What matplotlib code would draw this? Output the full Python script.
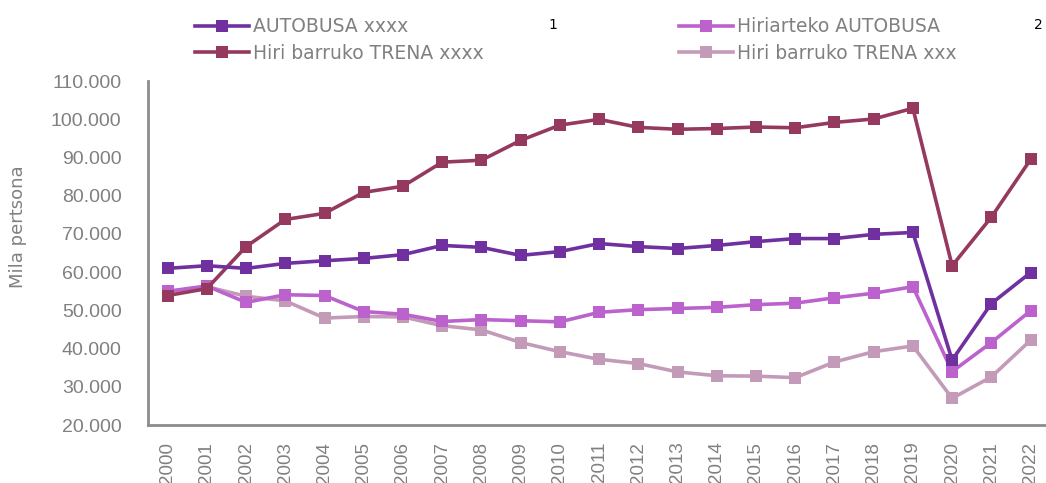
import matplotlib
matplotlib.use("Agg")
import matplotlib.pyplot as plt
from matplotlib.ticker import FuncFormatter
from matplotlib.lines import Line2D

years = [str(y) for y in range(2000, 2023)]
autobusa = [61000, 61700, 61000, 62300, 63000, 63600, 64600, 67000, 66500, 64400, 65400,
            67500, 66700, 66200, 67000, 68000, 68800, 68800, 69900, 70400, 37000, 51800, 59900]
trena = [53900, 55700, 66700, 73800, 75400, 80900, 82500, 88800, 89300, 94500, 98500,
         100000, 97900, 97400, 97600, 98000, 97800, 99200, 100100, 102900, 61700, 74400, 89500]
hiriarteko = [55000, 56400, 52100, 54100, 53900, 49700, 49000, 47100, 47600, 47300, 47000,
              49500, 50200, 50500, 50800, 51500, 51900, 53300, 54500, 56200, 34000, 41600, 49900]
trena2 = [54900, 56200, 53700, 52500, 48000, 48400, 48300, 46000, 44900, 41600, 39200,
          37200, 36100, 33900, 32900, 32800, 32400, 36500, 39200, 40700, 27000, 32600, 42200]

labels = ["AUTOBUSA xxxx", "Hiri barruko TRENA xxxx", "Hiriarteko AUTOBUSA", "Hiri barruko TRENA xxx"]
colors = ["#7030A0", "#953A5E", "#BC62CC", "#C39BB9"]
series = [autobusa, trena, hiriarteko, trena2]

fig = plt.figure(figsize=(10.46, 4.83), dpi=100)
ax = fig.add_axes([0.1415, 0.12, 0.8625, 0.712])
x = list(range(len(years)))
for idx in [3, 2, 1, 0]:
    ax.plot(x, series[idx], color=colors[idx], lw=2.6, marker="s", markersize=8.5,
            markeredgewidth=0, solid_joinstyle="miter")

ax.set_xlim(-0.5, len(years) - 0.5)
ax.set_ylim(20000, 110000)
ax.set_yticks(range(20000, 110001, 10000))
ax.yaxis.set_major_formatter(FuncFormatter(lambda v, p: f"{int(v):,}".replace(",", ".")))
ax.set_xticks(x)
ax.set_xticklabels(years, rotation=90, fontsize=13.5, color="#808080", family="Liberation Sans")
for t in ax.get_yticklabels():
    t.set_family("Liberation Sans")
ax.tick_params(axis="y", labelsize=14, labelcolor="#808080", length=0, pad=19)
ax.tick_params(axis="x", length=0, pad=12)
for s in ["top", "right"]:
    ax.spines[s].set_visible(False)
for s in ["left", "bottom"]:
    ax.spines[s].set_color("#8C8C8C")
    ax.spines[s].set_linewidth(2)
ax.set_ylabel("Mila pertsona", fontsize=13, color="#808080", va="center")
ax.yaxis.set_label_coords(-0.144, 0.576)

handles = [Line2D([], [], color=c, lw=2.6, marker="s", markersize=8.5, markeredgewidth=0) for c in colors]
common = dict(frameon=False, fontsize=13.5, labelcolor="#808080", handlelength=2.9,
              handletextpad=0.2, labelspacing=0.4, loc="upper left")
fig.legend(handles[:2], labels[:2], bbox_to_anchor=(0.170, 0.999), **common)
fig.legend(handles[2:], labels[2:], bbox_to_anchor=(0.633, 0.999), **common)
fig.text(0.529, 0.948, "1", fontsize=10, color="#000000", ha="center", va="center")
fig.text(0.993, 0.948, "2", fontsize=10, color="#000000", ha="center", va="center")

fig.savefig("out.png", dpi=100)
